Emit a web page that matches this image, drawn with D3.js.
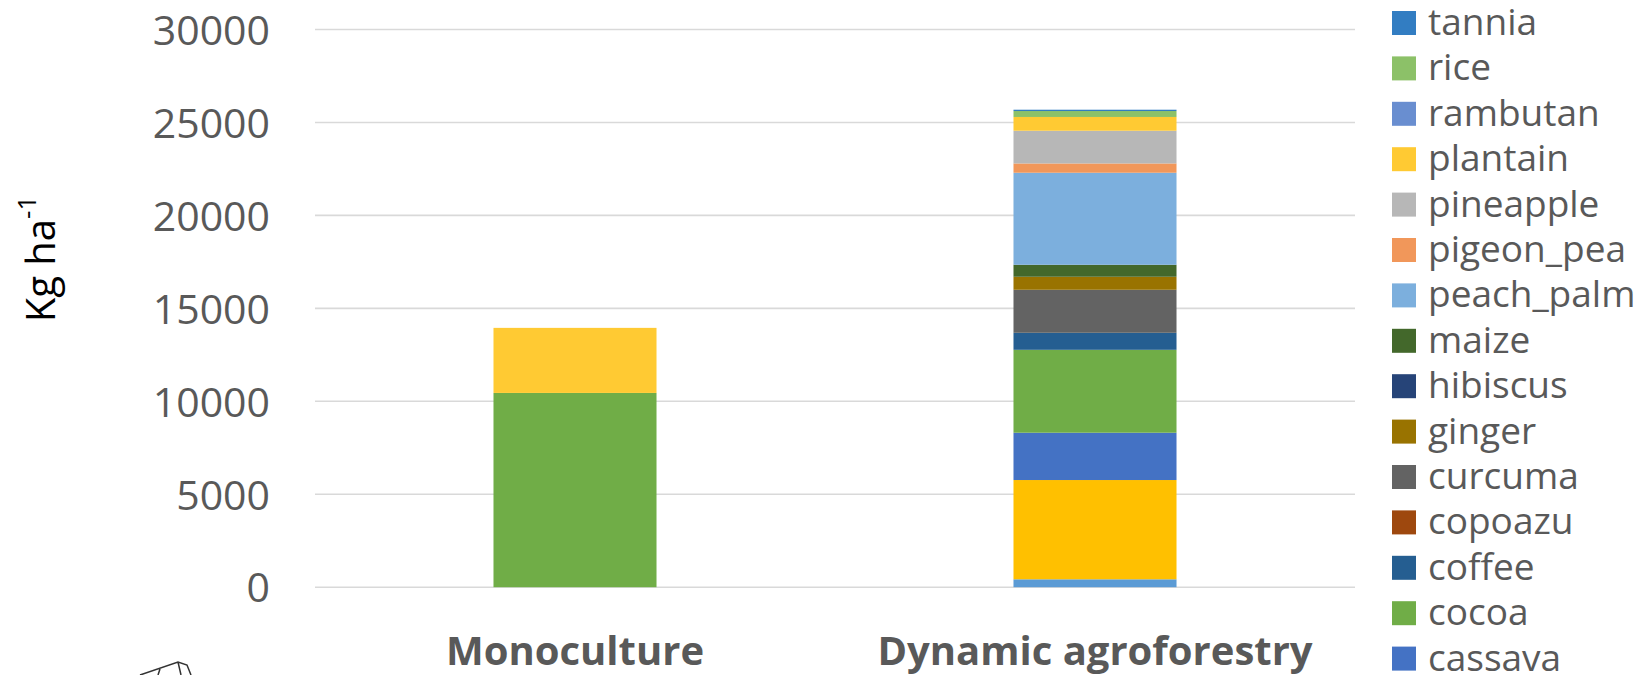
<!DOCTYPE html>
<html>
<head>
<meta charset="utf-8">
<script src="https://cdn.jsdelivr.net/npm/d3@7"></script>
<style>
  html, body { margin: 0; padding: 0; background: #fff; }
  svg { display: block; font-family: "Open Sans", "Noto Sans", sans-serif; }
</style>
</head>
<body>
<svg id="chart" width="1645" height="675"></svg>
<script>
// Yield per hectare by crop, stacked for each production system
const categories = ["Monoculture", "Dynamic agroforestry"];
const crops = ["avocado", "banana", "cassava", "cocoa", "coffee", "copoazu", "curcuma",
  "ginger", "hibiscus", "maize", "peach_palm", "pigeon_pea", "pineapple", "plantain",
  "rambutan", "rice", "tannia"];
const monocultureYield = [0, 0, 0, 10450, 0, 0, 0, 0, 0, 0, 0, 0, 0, 3500, 0, 0, 0];
const agroforestryYield = [425, 5340, 2545, 4460, 915, 0, 2315, 700, 0, 645, 4950, 500, 1760, 740, 0, 320, 70];
const cropColors = ["#5B9BD5", "#FFC000", "#4472C4", "#70AD47", "#255E91", "#9E480E", "#636363",
  "#997300", "#264478", "#43682B", "#7CAFDD", "#F1975A", "#B7B7B7", "#FFCA33",
  "#698ED0", "#8CC168", "#327DC2"];
const yTicks = [0, 5000, 10000, 15000, 20000, 25000, 30000];

const W = 1645, H = 675;
const svg = d3.select("#chart");
const textGray = "#595959";

const seriesByCategory = [monocultureYield, agroforestryYield];
const rows = categories.map((c, ci) => {
  const r = { category: c };
  crops.forEach((k, i) => { r[k] = seriesByCategory[ci][i]; });
  return r;
});

const x = d3.scaleBand().domain(categories).range([315, 1355])
  .paddingInner(0.6865).paddingOuter(0.6865 / 2);
const y = d3.scaleLinear().domain([0, 30000]).range([587.2, 29.5]);
const color = d3.scaleOrdinal().domain(crops).range(cropColors);

// Horizontal gridlines
svg.append("g").selectAll("line").data(yTicks).join("line")
  .attr("x1", 315).attr("x2", 1355)
  .attr("y1", d => y(d)).attr("y2", d => y(d))
  .attr("stroke", "#D9D9D9").attr("stroke-width", 1.6);

// Y tick labels
const yAxis = d3.axisLeft(y).tickValues(yTicks).tickSize(0).tickPadding(0)
  .tickFormat(d3.format("d"));
const gy = svg.append("g").attr("transform", "translate(270,0)").call(yAxis);
gy.select(".domain").remove();
gy.selectAll("text")
  .attr("fill", textGray).attr("font-size", 41)
  .attr("font-family", "'Open Sans', sans-serif").attr("dy", "0.36em");

// Stacked bars
const stacked = d3.stack().keys(crops)(rows);
svg.append("g").selectAll("g").data(stacked).join("g")
  .attr("fill", d => color(d.key))
  .selectAll("rect").data(d => d).join("rect")
  .attr("x", d => x(d.data.category))
  .attr("width", x.bandwidth())
  .attr("y", d => y(d[1]))
  .attr("height", d => y(d[0]) - y(d[1]));

// Category labels
svg.append("g").selectAll("text").data(categories).join("text")
  .attr("x", d => x(d) + x.bandwidth() / 2)
  .attr("y", 665)
  .attr("text-anchor", "middle")
  .attr("font-size", 40).attr("font-weight", "bold")
  .attr("fill", textGray)
  .text(d => d);

// Y axis title with superscript unit
const yTitle = svg.append("text")
  .attr("transform", "translate(55,259) rotate(-90)")
  .attr("text-anchor", "middle")
  .attr("font-size", 40).attr("fill", "#000");
yTitle.append("tspan").text("Kg ha");
yTitle.append("tspan").attr("font-size", 26).attr("dy", "-0.75em").text("-1");

// Legend, listed top-down from the last stacked series; rows past the bottom edge are left out
const legendStep = 45.4;
const legendItems = crops.slice().reverse()
  .map((k, i) => ({ key: k, cy: 23 + i * legendStep }))
  .filter(d => d.cy + 12 <= H);
const lg = svg.append("g").selectAll("g").data(legendItems).join("g")
  .attr("transform", d => `translate(1392,${d.cy})`);
lg.append("rect").attr("x", 0).attr("y", -12).attr("width", 24).attr("height", 24)
  .attr("fill", d => color(d.key));
lg.append("text").attr("x", 36).attr("y", 12)
  .attr("font-size", 37).attr("fill", textGray)
  .text(d => d.key);

// Small line sketch in the lower-left corner
svg.append("path")
  .attr("d", "M140,675 L178,662 L187,665 L191,675 M178,662 L181,675 M158,675 L160,669")
  .attr("fill", "none").attr("stroke", "#333").attr("stroke-width", 1.5);
</script>
</body>
</html>
